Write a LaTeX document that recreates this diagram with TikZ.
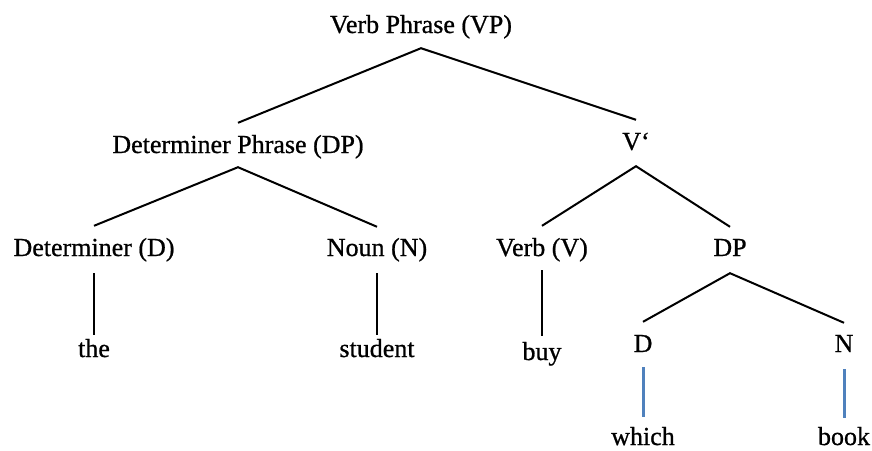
\documentclass[tikz,border=0pt]{standalone}
\usepackage{fontspec}
\setmainfont{Liberation Serif}
\newfontfamily\treefont{Liberation Serif}[FakeBold=0.8]
\definecolor{linkblue}{RGB}{79,129,189}
\begin{document}
\begin{tikzpicture}[x=1pt,y=-1pt,
  lbl/.style={anchor=base, inner sep=0pt, text height=18pt, text depth=0pt,
              font=\treefont\fontsize{26}{30}\selectfont},
  branch/.style={line width=2pt, black},
  leafline/.style={line width=2pt, black},
  blueline/.style={line width=3pt, linkblue}]
\useasboundingbox (0,0) rectangle (872,450);

% phrase labels
\node[lbl] (vp)   at (421,33)  {Verb Phrase (VP)};
\node[lbl] (dp1)  at (238,153) {Determiner Phrase (DP)};
\node[lbl] (vbar) at (636,150) {V‘};
\node[lbl] (det)  at (94,256)  {Determiner (D)};
\node[lbl] (noun) at (377,256) {Noun (N)};
\node[lbl] (verb) at (542,256) {Verb (V)};
\node[lbl] (dp2)  at (730,256) {DP};
\node[lbl] (d)    at (643,352) {D};
\node[lbl] (n)    at (844,352) {N};

% words
\node[lbl] (the)     at (94,357)  {the};
\node[lbl] (student) at (377,357) {student};
\node[lbl] (buy)     at (542,360) {buy};
\node[lbl] (which)   at (643,445) {which};
\node[lbl] (book)    at (844,445) {book};

% branches
\draw[branch] ([yshift=12pt]dp1.north) -- ([yshift=-15pt]vp.south) -- ([yshift=12pt]vbar.north);
\draw[branch] ([yshift=12pt]det.north) -- ([yshift=-14pt]dp1.south) -- ([yshift=11pt]noun.north);
\draw[branch] ([yshift=12pt]verb.north) -- ([yshift=-16pt]vbar.south) -- ([yshift=11pt]dp2.north);
\draw[branch] ([yshift=12pt]d.north) -- ([yshift=-17pt]dp2.south) -- ([yshift=11pt]n.north);

% terminal lines
\draw[leafline] ([yshift=-17pt]det.south) -- ([yshift=4pt]the.north);
\draw[leafline] ([yshift=-17pt]noun.south) -- ([yshift=4pt]student.north);
\draw[leafline] ([yshift=-14pt]verb.south) -- ([yshift=6pt]buy.north);
\draw[blueline] ([yshift=-15pt]d.south) -- ([yshift=10pt]which.north);
\draw[blueline] ([yshift=-17pt]n.south) -- ([yshift=9pt]book.north);
\end{tikzpicture}
\end{document}
